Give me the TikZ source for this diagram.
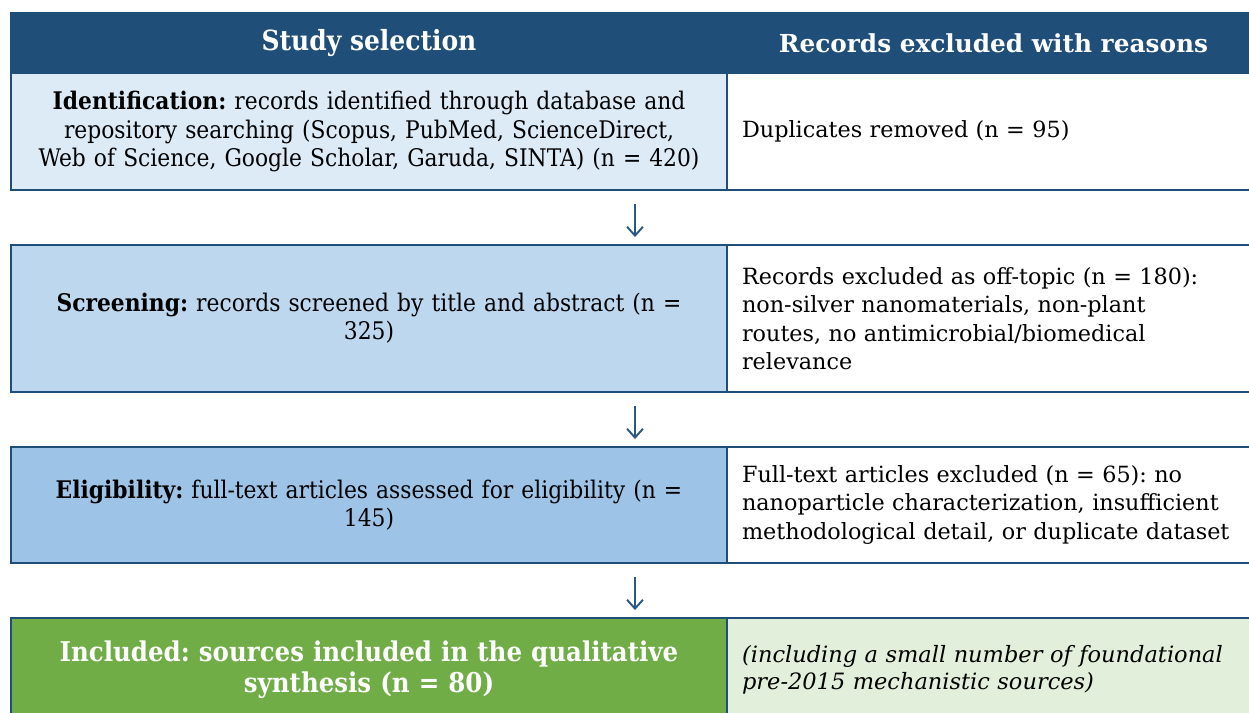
\documentclass[tikz,border=0pt]{standalone}
\usepackage{fontspec}
\setmainfont{DejaVu Serif}
\newfontfamily\narrowfont{DejaVu Serif Condensed}
\usetikzlibrary{arrows.meta}
\frenchspacing

\definecolor{headblue}{HTML}{1F4E79}
\definecolor{lineblue}{HTML}{2A5783}
\definecolor{idfill}{HTML}{DDEBF7}
\definecolor{scrfill}{HTML}{BDD7EE}
\definecolor{elifill}{HTML}{9DC3E6}
\definecolor{incfill}{HTML}{70AD47}
\definecolor{notefill}{HTML}{E2EFDA}

\tikzset{
  cell/.style={draw=headblue,line width=1.1pt,inner sep=0pt},
  head/.style={cell,fill=headblue,text=white,minimum height=1.2cm},
  leftcell/.style={cell,minimum width=14.32cm,text width=13.9cm,align=center,
    font=\narrowfont\fontsize{13.8}{16}\selectfont},
  rightcell/.style={cell,minimum width=10.66cm,text width=10.06cm,align=left,
    font=\fontsize{12.7}{16.2}\selectfont},
  flowarrow/.style={-{Straight Barb[length=5pt,width=9pt,line width=1.1pt]},draw=lineblue,
    line width=0.9pt,shorten <=0.26cm,shorten >=0.14cm}
}

\begin{document}
\begin{tikzpicture}[x=0.02cm,y=-0.02cm]
  \useasboundingbox (0,0) rectangle (1249,713);

  % header row
  \node[head,minimum width=14.32cm,font=\narrowfont\bfseries\fontsize{15.8}{18}\selectfont] (hleft) at (369,43) {Study selection};
  \node[head,minimum width=10.66cm,font=\bfseries\fontsize{14.1}{17}\selectfont] (hright) at (993.5,43) {Records excluded with reasons};

  % stages (left) and exclusions (right)
  \node[leftcell,fill=idfill,minimum height=2.34cm] (ident) at (369,131.5)
    {\textbf{Identification:} records identified through database and\\repository searching (Scopus, PubMed, ScienceDirect,\\Web of Science, Google Scholar, Garuda, SINTA) (n = 420)};
  \node[rightcell,minimum height=2.34cm] (dupl) at (993.5,131.5) {Duplicates removed (n = 95)};

  \node[leftcell,fill=scrfill,minimum height=2.94cm] (screen) at (369,318.5)
    {\textbf{Screening:} records screened by title and abstract (n =\\325)};
  \node[rightcell,minimum height=2.94cm] (offtopic) at (993.5,318.5)
    {Records excluded as off-topic (n = 180):\\non-silver nanomaterials, non-plant\\routes, no antimicrobial/biomedical\\relevance};

  \node[leftcell,fill=elifill,minimum height=2.32cm] (elig) at (369,505)
    {\textbf{Eligibility:} full-text articles assessed for eligibility (n =\\145)};
  \node[rightcell,minimum height=2.32cm] (fulltext) at (993.5,505)
    {Full-text articles excluded (n = 65): no\\nanoparticle characterization, insufficient\\methodological detail, or duplicate dataset};

  \node[leftcell,fill=incfill,text=white,minimum height=2.08cm,font=\narrowfont\bfseries\fontsize{15.5}{17.5}\selectfont] (incl) at (369,670)
    {Included: sources included in the qualitative\\synthesis (n = 80)};
  \node[rightcell,fill=notefill,minimum height=2.08cm,font=\itshape\fontsize{12.8}{15.5}\selectfont] (note) at (993.5,670)
    {(including a small number of foundational\\pre-2015 mechanistic sources)};

  \coordinate (ax) at (635,0);
  \foreach \from/\to in {ident/screen,screen/elig,elig/incl}
    \draw[flowarrow] (\from.south -| ax) -- (\to.north -| ax);

\end{tikzpicture}
\end{document}
